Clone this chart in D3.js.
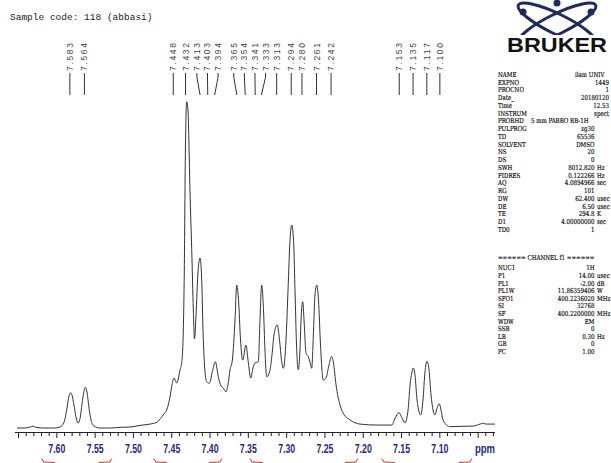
<!DOCTYPE html>
<html><head><meta charset="utf-8">
<script src="https://cdn.jsdelivr.net/npm/d3@7"></script>
<style>html,body{margin:0;padding:0;background:#fff;overflow:hidden} svg{display:block}</style>
</head><body>
<script>
// ---- data ----
const ppm = [7.6520,7.6416,7.6350,7.6311,7.6272,7.6154,7.6024,7.5959,7.5906,7.5867,7.5841,7.5819,7.5802,7.5776,7.5750,7.5724,7.5698,7.5671,7.5645,7.5628,7.5606,7.5580,7.5554,7.5515,7.5436,7.5306,7.5175,7.5045,7.4914,7.4784,7.4692,7.4631,7.4601,7.4566,7.4542,7.4523,7.4497,7.4470,7.4451,7.4435,7.4418,7.4392,7.4370,7.4349,7.4336,7.4323,7.4305,7.4288,7.4275,7.4262,7.4239,7.4218,7.4203,7.4183,7.4157,7.4131,7.4111,7.4092,7.4066,7.4044,7.4010,7.3965,7.3931,7.3892,7.3857,7.3827,7.3792,7.3766,7.3739,7.3709,7.3674,7.3652,7.3628,7.3602,7.3574,7.3531,7.3504,7.3469,7.3439,7.3413,7.3370,7.3348,7.3326,7.3302,7.3283,7.3260,7.3217,7.3191,7.3165,7.3122,7.3093,7.3067,7.3043,7.3008,7.2982,7.2956,7.2934,7.2910,7.2891,7.2871,7.2848,7.2826,7.2812,7.2790,7.2773,7.2747,7.2717,7.2695,7.2673,7.2649,7.2630,7.2607,7.2584,7.2558,7.2521,7.2486,7.2447,7.2412,7.2388,7.2355,7.2303,7.2260,7.2173,7.2042,7.1824,7.1628,7.1585,7.1533,7.1494,7.1455,7.1415,7.1389,7.1363,7.1346,7.1324,7.1298,7.1250,7.1220,7.1194,7.1168,7.1141,7.1115,7.1063,7.1037,7.1007,7.0985,7.0959,7.0910,7.0867,7.0737,7.0563,7.0476,7.0441,7.0389,7.0280];
const intensity = [0,0,0.3,0.6,0.2,0,0,0.3,1.8,6.1,9.8,10.8,10.1,7.0,3.4,1.5,2.8,7.4,11.3,12.5,11.0,6.1,2.5,0.6,0,0,0.2,0.3,0.8,1.2,1.8,3.4,4.3,5.5,7.4,9.5,13.2,15.3,14.4,13.8,14.7,17.8,19.9,30.0,48.4,82.1,100,97.5,86.7,72.9,54.6,36.2,27.3,34.6,47.8,52.1,46.9,30.0,17.2,14.2,13.7,17.8,20.3,15.7,12.9,12.2,11.1,13.2,17.8,20.8,33.1,43.8,39.2,27.0,20.8,25.4,20.8,15.3,18.4,19.9,20.3,33.1,43.8,36.2,23.9,15.7,17.8,22.4,28.5,31.6,27.0,20.8,18.3,27.0,42.3,57.6,62.2,57.6,42.3,25.4,17.8,23.9,33.1,38.7,33.1,22.9,21.9,20.2,18.3,30.0,40.8,43.8,39.2,25.4,14.7,15.3,19.3,21.9,19.9,13.2,7.0,4.5,2.5,1.2,0.9,0.9,3.0,4.7,3.1,1.6,5.5,13.2,17.2,18.4,16.2,8.6,4.0,8.6,17.2,20.5,17.8,10.1,4.0,6.1,7.4,5.5,2.5,0.9,0.4,0.5,0.6,1.2,1.4,1.2,1.2];
const peakLabels = [7.583,7.564,7.448,7.432,7.413,7.403,7.394,7.365,7.354,7.341,7.333,7.313,7.294,7.280,7.261,7.242,7.153,7.135,7.117,7.100];
const axisTickLabels = [7.60,7.55,7.50,7.45,7.40,7.35,7.30,7.25,7.20,7.15,7.10];
const integralRanges = [[7.6196,7.5282],[7.4734,7.3846],[7.3480,7.2070],[7.1757,7.0582]];
const title = "Sample code: 118 (abbasi)";
const acqNames  = ["NAME","EXPNO","PROCNO","Date_","Time","INSTRUM","PROBHD","PULPROG","TD","SOLVENT","NS","DS","SWH","FIDRES","AQ","RG","DW","DE","TE","D1","TD0"];
const acqValues = ["ilam UNIV","1449","1","20180120","12.53","spect","5 mm PABBO BB-1H","zg30","65536","DMSO","20","0","8012.820","0.122266","4.0894966","101","62.400","6.50","294.8","4.00000000","1"];
const acqUnits  = ["","","","","","","","","","","","","Hz","Hz","sec","","usec","usec","K","sec",""];
const chanHeader = "====== CHANNEL f1 ======";
const chanNames  = ["NUC1","P1","PL1","PL1W","SFO1","SI","SF","WDW","SSB","LB","GB","PC"];
const chanValues = ["1H","14.00","-2.00","11.86359406","400.2236020","32768","400.2200000","EM","0","0.30","0","1.00"];
const chanUnits  = ["","usec","dB","W","MHz","","MHz","","","Hz","",""];

// ---- drawing ----
const W = 611, H = 463;
const svg = d3.select("body").append("svg").attr("width", W).attr("height", H);
const x = d3.scaleLinear().domain([7.652, 7.028]).range([17, 495]);
const y = d3.scaleLinear().domain([0, 100]).range([428, 101.7]);

// title
svg.append("text").attr("x", 10).attr("y", 20).text(title)
  .attr("font-family", "Liberation Mono, monospace").attr("font-size", 9.5).attr("fill", "#222");

// spectrum
const pts = ppm.map((p, i) => [p, intensity[i]]);
svg.append("path").datum(pts)
  .attr("d", d3.line().x(d => x(d[0])).y(d => y(d[1])).curve(d3.curveMonotoneX))
  .attr("fill", "none").attr("stroke", "#333").attr("stroke-width", 1);

// axis
const axisY = 432.5;
const gAx = svg.append("g").attr("transform", `translate(0,${axisY})`);
gAx.append("line").attr("x1", 15).attr("x2", 495).attr("stroke", "#222");
const minor = d3.range(7.65, 7.025, -0.01).map(v => +v.toFixed(2));
gAx.selectAll("line.t").data(minor).join("line").attr("class", "t")
  .attr("x1", d => x(d)).attr("x2", d => x(d)).attr("y1", 0)
  .attr("y2", d => (Math.round(d * 100) % 5 === 0) ? 5.5 : 3.5)
  .attr("stroke", "#222");
gAx.selectAll("text.lab").data(axisTickLabels).join("text").attr("class", "lab")
  .attr("x", d => x(d)).attr("y", 20).attr("text-anchor", "middle")
  .attr("textLength", 17).attr("lengthAdjust", "spacingAndGlyphs")
  .attr("font-family", "Liberation Sans, Arial").attr("font-weight", "bold").attr("font-size", 12)
  .attr("fill", "#1f2790").text(d => d.toFixed(2));
gAx.append("text").attr("x", 485).attr("y", 20).attr("text-anchor", "middle")
  .attr("textLength", 20).attr("lengthAdjust", "spacingAndGlyphs")
  .attr("font-family", "Liberation Sans, Arial").attr("font-weight", "bold").attr("font-size", 12)
  .attr("fill", "#1f2790").text("ppm");

// integral brackets (only the ends are visible above the bottom edge)
svg.selectAll("path.int").data(integralRanges).join("path").attr("class", "int")
  .attr("d", d => {
    const a = x(d[0]), b = x(d[1]);
    return `M${a},458.5 L${a + 2},462 L${a + 13},462.5 M${b - 13},462.5 L${b - 2},462 L${b},458.5`;
  })
  .attr("fill", "none").attr("stroke", "#c0392b").attr("stroke-width", 1);

// peak labels
const px = peakLabels.map(p => x(p));
const lx = px.slice();
const gap = 10.6;
for (let it = 0; it < 500; it++) {
  for (let i = 0; i < lx.length - 1; i++) {
    const d = lx[i + 1] - lx[i];
    if (d < gap) { const m = (gap - d) / 2; lx[i] -= m; lx[i + 1] += m; }
  }
}
const gPk = svg.append("g");
peakLabels.forEach((p, i) => {
  gPk.append("text").attr("transform", `translate(${lx[i]},71) rotate(-90)`)
    .attr("dy", "0.35em").attr("textLength", 28).attr("lengthAdjust", "spacing")
    .attr("font-family", "Liberation Sans, Arial").attr("font-size", 8.5).attr("fill", "#444")
    .text(p.toFixed(3));
  gPk.append("path").attr("d", `M${lx[i]},73 L${lx[i]},77 L${px[i]},95`)
    .attr("fill", "none").attr("stroke", "#333").attr("stroke-width", 1);
});

// Bruker logo
const gL = svg.append("g");
const cx = 557, cy = 24;
[26, -26].forEach(a => {
  gL.append("ellipse").attr("cx", cx).attr("cy", cy).attr("rx", 43).attr("ry", 10)
    .attr("transform", `rotate(${a},${cx},${cy})`)
    .attr("fill", "none").attr("stroke", "#1d2b5e").attr("stroke-width", 3);
});
[[523, 12], [591, 12], [557, 3]].forEach(c => gL.append("circle").attr("cx", c[0]).attr("cy", c[1]).attr("r", 3.5).attr("fill", "#1d2b5e"));
gL.append("rect").attr("x", 508).attr("y", 35).attr("width", 103).attr("height", 19).attr("fill", "#fff");
gL.append("text").attr("x", 507).attr("y", 52).attr("textLength", 100).attr("lengthAdjust", "spacingAndGlyphs")
  .attr("font-family", "Liberation Sans, Arial").attr("font-weight", "bold").attr("font-size", 21)
  .attr("fill", "#111").text("BRUKER");

// parameter panel (condensed serif)
const sx = 0.8;
const gP = svg.append("g").attr("transform", `scale(${sx},1)`)
  .attr("font-family", "DejaVu Serif, serif").attr("font-size", 6.9).attr("fill", "#000")
  .attr("stroke", "#000").attr("stroke-width", 0.15);
const rowH = 7.75;
const y0 = 77;
const valRight = 594.5, unitLeft = 597;
acqNames.forEach((n, i) => {
  const yy = y0 + i * rowH;
  gP.append("text").attr("x", 498 / sx).attr("y", yy).text(n);
  const right = i < 7 ? 609 : valRight;
  if (n === "NAME") gP.append("text").attr("x", 575 / sx).attr("y", yy).text(acqValues[i]);
  else if (n === "PROBHD") gP.append("text").attr("x", 531 / sx).attr("y", yy).text(acqValues[i]);
  else gP.append("text").attr("x", right / sx).attr("y", yy).attr("text-anchor", "end").text(acqValues[i]);
  if (acqUnits[i]) gP.append("text").attr("x", unitLeft / sx).attr("y", yy).text(acqUnits[i]);
});
const y1 = 260.5, rowH2 = 7.6;
gP.append("text").attr("x", 498 / sx).attr("y", y1).text(chanHeader);
chanNames.forEach((n, i) => {
  const yy = y1 + 10 + i * rowH2;
  gP.append("text").attr("x", 498 / sx).attr("y", yy).text(n);
  gP.append("text").attr("x", valRight / sx).attr("y", yy).attr("text-anchor", "end").text(chanValues[i]);
  if (chanUnits[i]) gP.append("text").attr("x", unitLeft / sx).attr("y", yy).text(chanUnits[i]);
});
</script>
</body></html>
